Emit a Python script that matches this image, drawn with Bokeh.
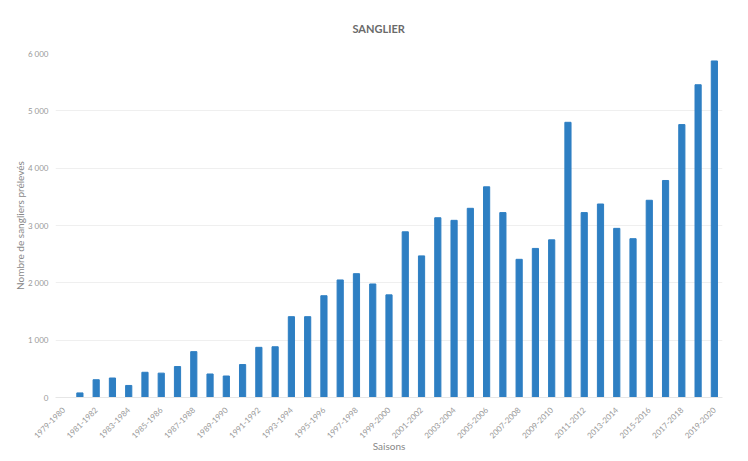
from bokeh.plotting import figure
from bokeh.models import Range1d, FixedTicker, CustomJSTickFormatter
from bokeh.embed import file_html
from bokeh.resources import INLINE
from math import pi

seasons = [f"{y}-{y+1}" for y in range(1979, 2020)]
values = [0, 80, 310, 340, 210, 440, 425, 540, 800, 410,
          375, 575, 875, 885, 1410, 1410, 1775, 2050, 2160, 1980,
          1790, 2890, 2470, 3135, 3090, 3300, 3675, 3225, 2410, 2600,
          2750, 4800, 3225, 3375, 2950, 2770, 3440, 3785, 4760, 5455,
          5870]
y_ticks = [0, 1000, 2000, 3000, 4000, 5000, 6000]

xpos = list(range(len(seasons)))

p = figure(width=748, height=461, output_backend="svg", toolbar_location=None,
           x_range=Range1d(-0.5, len(seasons) - 0.5),
           y_range=Range1d(0, 6000),
           min_border_left=55, min_border_right=26, min_border_top=52, min_border_bottom=64,
           title="SANGLIER")

p.vbar(x=xpos, top=values, width=0.38, color="#2E7FC3")

p.title.align = "left"
p.title.offset = 297
p.title.standoff = 38
p.title.text_font = "Lato"
p.title.text_font_size = "11px"
p.title.text_font_style = "bold"
p.title.text_color = "#6a6a6a"

p.outline_line_color = None
p.xgrid.grid_line_color = None
p.ygrid.grid_line_color = "#efefef"

p.yaxis.ticker = FixedTicker(ticks=y_ticks)
p.yaxis.formatter = CustomJSTickFormatter(code="return tick == 0 ? '0' : (tick/1000) + ' 000';")
p.yaxis.axis_line_color = None
p.yaxis.major_tick_line_color = None
p.yaxis.minor_tick_line_color = None
p.yaxis.major_label_standoff = 1
p.yaxis.major_label_text_font = "Lato"
p.yaxis.major_label_text_font_size = "8px"
p.yaxis.major_label_text_color = "#999999"
p.yaxis.axis_label = "Nombre de sangliers prélevés"
p.yaxis.axis_label_standoff = -1
p.yaxis.axis_label_text_font = "Lato"
p.yaxis.axis_label_text_font_size = "10px"
p.yaxis.axis_label_text_font_style = "normal"
p.yaxis.axis_label_text_color = "#888888"

p.xaxis.ticker = FixedTicker(ticks=xpos[::2])
p.xaxis.major_label_overrides = {i: s for i, s in zip(xpos, seasons)}
p.xaxis.major_label_orientation = pi / 4
p.xaxis.axis_line_color = "#e6e6e6"
p.xaxis.major_tick_line_color = None
p.xaxis.minor_tick_line_color = None
p.xaxis.major_label_text_font = "Lato"
p.xaxis.major_label_text_font_size = "8px"
p.xaxis.major_label_text_color = "#999999"
p.xaxis.axis_label = "Saisons"
p.xaxis.axis_label_standoff = -4
p.xaxis.axis_label_text_font = "Lato"
p.xaxis.axis_label_text_font_size = "10px"
p.xaxis.axis_label_text_font_style = "normal"
p.xaxis.axis_label_text_color = "#888888"

open("out.html", "w").write(file_html(p, INLINE))
